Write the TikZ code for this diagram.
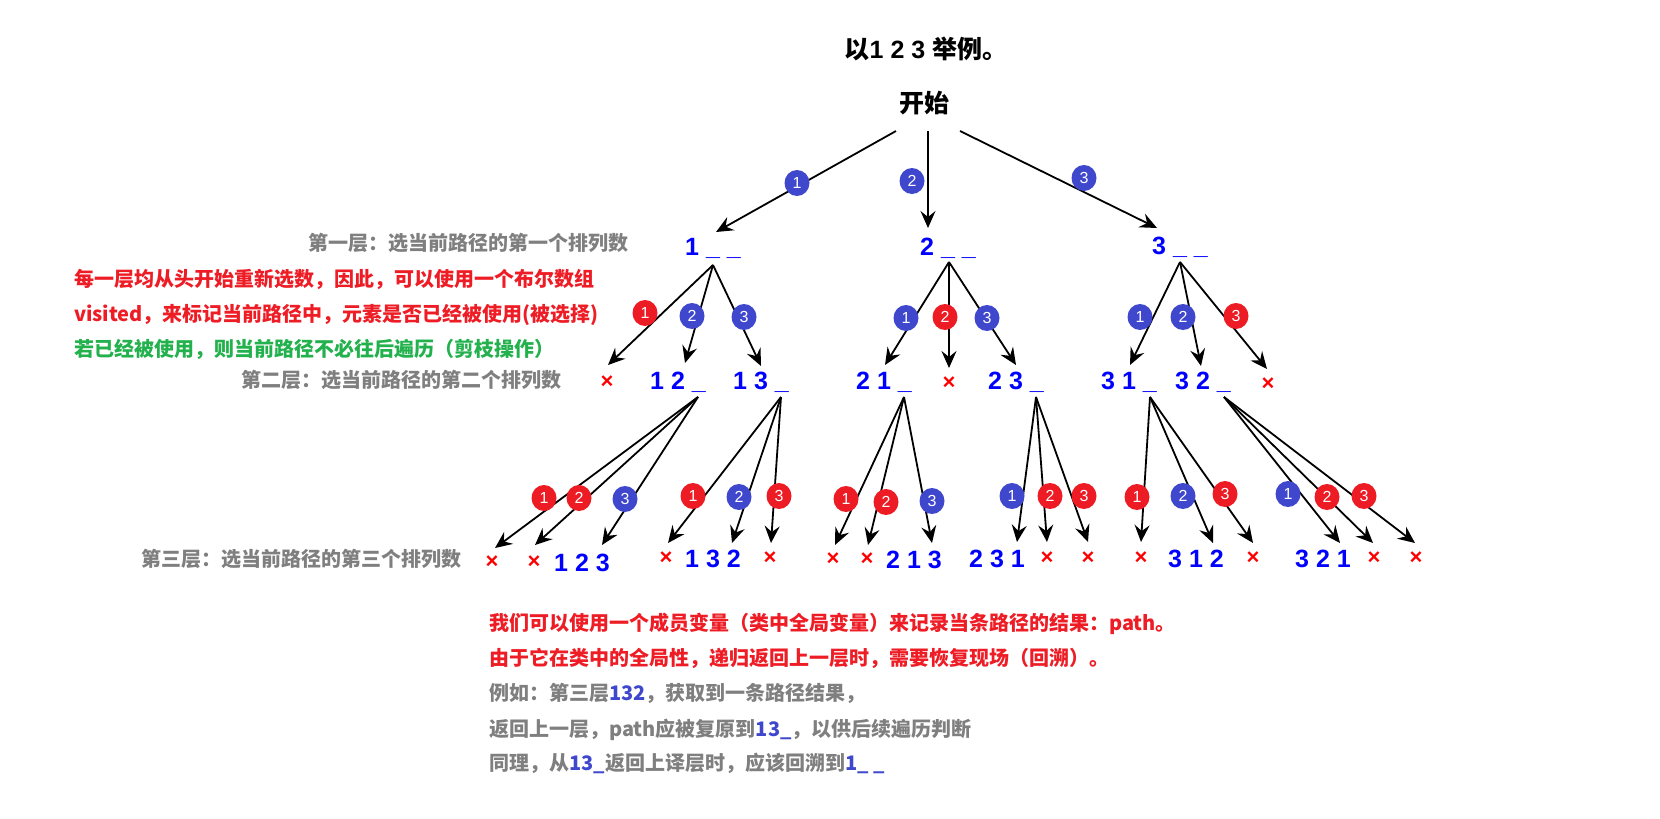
\documentclass[tikz,border=0pt]{standalone}
\usepackage{fontspec}
\usetikzlibrary{arrows.meta,shapes.geometric}
\newfontfamily\cjk{Noto Sans CJK SC}
\newfontfamily\arl{Liberation Sans}
\definecolor{cblue}{HTML}{3F48CC}
\definecolor{cred}{HTML}{ED1C24}
\definecolor{tred}{HTML}{EE1C25}
\definecolor{tgreen}{HTML}{22B14C}
\definecolor{tgray}{HTML}{7F7F7F}
\definecolor{nblue}{HTML}{0000FF}
\definecolor{xred}{HTML}{FF0000}
\tikzset{
  arr/.style={-{Stealth[length=17pt,width=15pt,inset=6pt]}, line width=1.8pt, draw=black},
  bub/.style={ellipse, inner sep=0pt, minimum width=25pt, minimum height=26pt, text=white, font=\arl\fontsize{16}{16}\selectfont},
  bb/.style={bub, fill=cblue},
  br/.style={bub, fill=cred},
  num/.style={anchor=base west, inner sep=0pt, text=nblue, font=\arl\bfseries\fontsize{25}{25}\selectfont},
  xx/.style={inner sep=0pt, text=xred, font=\arl\bfseries\fontsize{22}{22}\selectfont},
  lbl/.style={anchor=base west, inner sep=0pt, font=\cjk\bfseries\fontsize{20}{20}\selectfont},
  big/.style={anchor=base, inner sep=0pt, text=black, font=\cjk\bfseries\fontsize{25}{25}\selectfont},
}
\begin{document}
\begin{tikzpicture}[x=1pt,y=-1pt]
\useasboundingbox (0,0) rectangle (1660,819);
\fill[white] (0,0) rectangle (1660,819);

% title and root
\node[big] (title) at (926,58) {以{\arl\bfseries 1 2 3 }举例。};
\node[big] (root) at (924,112) {开始};

% left labels
\node[lbl, text=tgray] (lab1) at (308,250) {第一层：选当前路径的第一个排列数};
\node[lbl, text=tred] (red1) at (74,286) {每一层均从头开始重新选数，因此，可以使用一个布尔数组};
\node[lbl, text=tred] (red2) at (74,321) {visited，来标记当前路径中，元素是否已经被使用(被选择)};
\node[lbl, text=tgreen] (grn1) at (74,356) {若已经被使用，则当前路径不必往后遍历（剪枝操作）};
\node[lbl, text=tgray] (lab2) at (241,387) {第二层：选当前路径的第二个排列数};
\node[lbl, text=tgray] (lab3) at (141,566) {第三层：选当前路径的第三个排列数};

% bottom notes
\node[lbl, text=tred] (bt1) at (489,630) {我们可以使用一个成员变量（类中全局变量）来记录当条路径的结果：path。};
\node[lbl, text=tred] (bt2) at (489,665) {由于它在类中的全局性，递归返回上一层时，需要恢复现场（回溯）。};
\node[lbl, text=tgray] (bt3) at (489,700) {例如：第三层\textcolor{cblue}{132}，获取到一条路径结果，};
\node[lbl, text=tgray] (bt4) at (489,736) {返回上一层，path应被复原到\textcolor{cblue}{13\_}，以供后续遍历判断};
\node[lbl, text=tgray] (bt5) at (489,770) {同理，从\textcolor{cblue}{13\_}返回上译层时，应该回溯到\textcolor{cblue}{1\_ \_}};

% level 1 nodes
\node[num] (n1) at (685,255) {1 \_ \_};
\node[num] (n2) at (920,255) {2 \_ \_};
\node[num] (n3) at (1152,254) {3 \_ \_};

% level 2 nodes
\node[xx] (x11) at (607,382) {×};
\node[num] (n12) at (650,389) {1 2 \_};
\node[num] (n13) at (733,389) {1 3 \_};
\node[num] (n21) at (856,389) {2 1 \_};
\node[xx] (x22) at (949,383) {×};
\node[num] (n23) at (988,389) {2 3 \_};
\node[num] (n31) at (1101,389) {3 1 \_};
\node[num] (n32) at (1175,389) {3 2 \_};
\node[xx] (x33) at (1268,384) {×};

% level 3 leaves
\node[xx] (x121) at (492,562) {×};
\node[xx] (x122) at (534,562) {×};
\node[num] (n123) at (554,571) {1 2 3};
\node[xx] (x131) at (666,558) {×};
\node[num] (n132) at (685,567) {1 3 2};
\node[xx] (x133) at (770,558) {×};
\node[xx] (x211) at (833,559) {×};
\node[xx] (x212) at (867,559) {×};
\node[num] (n213) at (886,568) {2 1 3};
\node[num] (n231) at (969,567) {2 3 1};
\node[xx] (x232) at (1047,558) {×};
\node[xx] (x233) at (1088,558) {×};
\node[xx] (x311) at (1141,558) {×};
\node[num] (n312) at (1168,567) {3 1 2};
\node[xx] (x313) at (1253,558) {×};
\node[num] (n321) at (1295,567) {3 2 1};
\node[xx] (x322) at (1374,558) {×};
\node[xx] (x323) at (1416,558) {×};

% connector anchors
\coordinate (s0a) at (896,131);
\coordinate (s0b) at (928,131);
\coordinate (s0c) at (960,131);
\coordinate (t1) at (716,232);
\coordinate (t2) at (928,228);
\coordinate (t3) at (1157,228);
\coordinate (a1) at (713,265);
\coordinate (a2) at (949,262);
\coordinate (a3) at (1180,262);
\coordinate (b12) at (698,397);
\coordinate (b13) at (781,397);
\coordinate (b21) at (904,397);
\coordinate (b23) at (1036,397);
\coordinate (b31) at (1150,397);
\coordinate (b32) at (1224,397);

% top arrows
\draw[arr] (s0a) -- (t1);
\draw[arr] (s0b) -- (t2);
\draw[arr] (s0c) -- (t3);

% level 1 -> 2 arrows
\coordinate (e11) at (608,365); \coordinate (e12) at (685,363); \coordinate (e13) at (761,366);
\coordinate (e21) at (885,365); \coordinate (e22) at (949,368); \coordinate (e23) at (1016,365);
\coordinate (e31) at (1130,365); \coordinate (e32) at (1201,366); \coordinate (e33) at (1267,369);
\foreach \s/\e in {a1/e11,a1/e12,a1/e13,a2/e21,a2/e22,a2/e23,a3/e31,a3/e32,a3/e33}
  \draw[arr] (\s) -- (\e);

% level 2 -> 3 arrows
\coordinate (f121) at (495,548); \coordinate (f122) at (535,545); \coordinate (f123) at (602,545);
\coordinate (f131) at (668,543); \coordinate (f132) at (732,543); \coordinate (f133) at (771,543);
\coordinate (f211) at (835,545); \coordinate (f212) at (868,545); \coordinate (f213) at (932,543);
\coordinate (f231) at (1017,542); \coordinate (f232) at (1047,542); \coordinate (f233) at (1088,542);
\coordinate (f311) at (1141,542); \coordinate (f312) at (1213,543); \coordinate (f313) at (1253,543);
\coordinate (f321) at (1340,543); \coordinate (f322) at (1373,543); \coordinate (f323) at (1415,543);
\foreach \s/\e in {b12/f121,b12/f122,b12/f123,b13/f131,b13/f132,b13/f133,
                   b21/f211,b21/f212,b21/f213,b23/f231,b23/f232,b23/f233,
                   b31/f311,b31/f312,b31/f313,b32/f321,b32/f322,b32/f323}
  \draw[arr] (\s) -- (\e);

% bubbles
\node[bb] (c01) at (797,183) {1};
\node[bb] (c02) at (912,181) {2};
\node[bb] (c03) at (1084,178) {3};

\node[br] (c11) at (645,313) {1};
\node[bb] (c12) at (692,316) {2};
\node[bb] (c13) at (744,317) {3};
\node[bb] (c21) at (906,318) {1};
\node[br] (c22) at (945,317) {2};
\node[bb] (c23) at (987,318) {3};
\node[bb] (c31) at (1140,317) {1};
\node[bb] (c32) at (1183,317) {2};
\node[br] (c33) at (1236,316) {3};

\node[br] (d121) at (544,498) {1};
\node[br] (d122) at (579,498) {2};
\node[bb] (d123) at (625,499) {3};
\node[br] (d131) at (693,496) {1};
\node[bb] (d132) at (739,497) {2};
\node[br] (d133) at (779,496) {3};
\node[br] (d211) at (846,499) {1};
\node[br] (d212) at (886,502) {2};
\node[bb] (d213) at (932,501) {3};
\node[bb] (d231) at (1012,496) {1};
\node[br] (d232) at (1050,496) {2};
\node[br] (d233) at (1084,496) {3};
\node[br] (d311) at (1137,497) {1};
\node[bb] (d312) at (1183,496) {2};
\node[br] (d313) at (1225,494) {3};
\node[bb] (d321) at (1288,494) {1};
\node[br] (d322) at (1327,497) {2};
\node[br] (d323) at (1364,496) {3};
\end{tikzpicture}
\end{document}
